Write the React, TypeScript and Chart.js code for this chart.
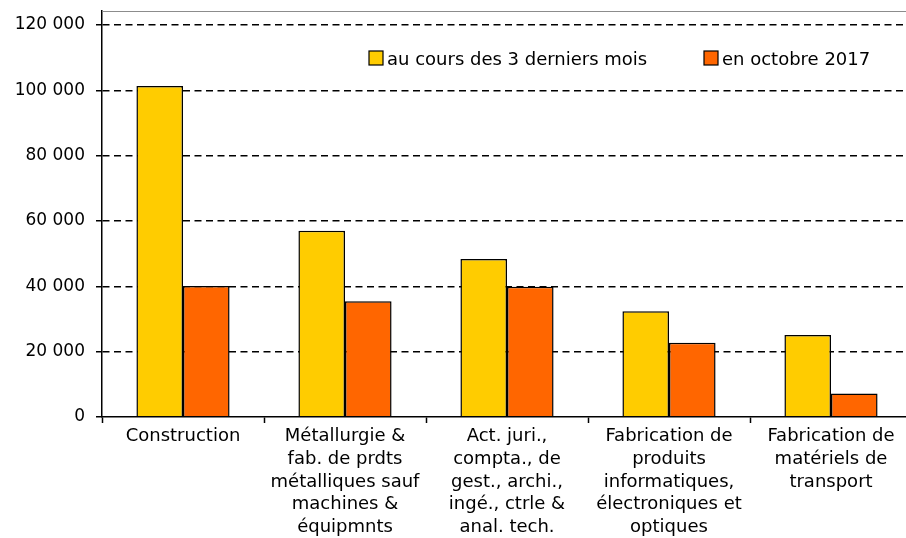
import React, { useEffect, useRef } from "react";
import { Chart, registerables } from "chart.js";

Chart.register(...registerables);

const categories: string[][] = [
  ["Construction"],
  ["Métallurgie &", "fab. de prdts", "métalliques sauf", "machines &", "équipmnts"],
  ["Act. juri.,", "compta., de", "gest., archi.,", "ingé., ctrle &", "anal. tech."],
  ["Fabrication de", "produits", "informatiques,", "électroniques et", "optiques"],
  ["Fabrication de", "matériels de", "transport"],
];
const seriesLabels = ["au cours des 3 derniers mois", "en octobre 2017"];
const last3Months = [101300, 57000, 48400, 32400, 25100];
const october2017 = [40100, 35400, 39900, 22700, 7200];
const yTickValues = [0, 20000, 40000, 60000, 80000, 100000, 120000];
const yMax = 124300;

const FONT = "'DejaVu Sans', Verdana, sans-serif";
const W = 920;
const H = 560;

const fmt = (v: number) => String(v).replace(/\B(?=(\d{3})+(?!\d))/g, " ");

const framePlugin = {
  id: "frameTop",
  beforeDatasetsDraw(chart: any) {
    const { ctx, chartArea } = chart;
    ctx.save();
    ctx.strokeStyle = "#8c8c8c";
    ctx.lineWidth = 1;
    ctx.beginPath();
    ctx.moveTo(chartArea.left, chartArea.top + 0.5);
    ctx.lineTo(chartArea.right, chartArea.top + 0.5);
    ctx.stroke();
    ctx.restore();
  },
};

const legendPlugin = {
  id: "customLegend",
  afterDraw(chart: any) {
    const { ctx, chartArea } = chart;
    const ds = chart.data.datasets;
    ctx.save();
    ctx.font = `18px ${FONT}`;
    ctx.textBaseline = "alphabetic";
    ctx.textAlign = "left";
    const base = chartArea.top + 54;
    const boxes = [chartArea.left + 267, chartArea.left + 602];
    boxes.forEach((bx, i) => {
      const d = ds[i];
      ctx.fillStyle = d.backgroundColor;
      ctx.fillRect(bx, base - 14, 14, 14);
      ctx.strokeStyle = "#000";
      ctx.lineWidth = 1.2;
      ctx.strokeRect(bx, base - 14, 14, 14);
      ctx.fillStyle = "#000";
      ctx.fillText(d.label, bx + 18, base);
    });
    ctx.restore();
  },
};

export default function App() {
  const ref = useRef<HTMLCanvasElement | null>(null);

  useEffect(() => {
    if (!ref.current) return;
    const chart = new Chart(ref.current, {
      type: "bar",
      data: {
        labels: categories,
        datasets: [
          {
            label: seriesLabels[0],
            data: last3Months,
            backgroundColor: "#FFCC00",
            borderColor: "#000000",
            borderWidth: 1.5,
            categoryPercentage: 0.575,
            barPercentage: 1,
          },
          {
            label: seriesLabels[1],
            data: october2017,
            backgroundColor: "#FF6600",
            borderColor: "#000000",
            borderWidth: 1.5,
            categoryPercentage: 0.575,
            barPercentage: 1,
          },
        ],
      },
      options: {
        responsive: false,
        animation: false,
        devicePixelRatio: 1,
        layout: { padding: { top: 11, right: W - 912, left: 0, bottom: 0 } },
        plugins: {
          legend: { display: false },
          tooltip: { enabled: false },
        },
        scales: {
          x: {
            offset: true,
            grid: {
              offset: true,
              drawOnChartArea: false,
              drawTicks: true,
              tickLength: 6,
              tickColor: "#000",
              tickWidth: 1.5,
            },
            border: { display: true, color: "#000", width: 1.5, z: 1 },
            ticks: {
              color: "#000",
              font: { family: FONT, size: 18, lineHeight: 1.264 },
              padding: 2,
              maxRotation: 0,
              autoSkip: false,
            },
            afterFit(scale: any) {
              scale.height = H - 417;
              scale.paddingLeft = 0;
              scale.paddingRight = 0;
            },
          },
          y: {
            min: 0,
            max: yMax,
            afterBuildTicks(scale: any) {
              scale.ticks = yTickValues.map((v) => ({ value: v }));
            },
            grid: {
              color: (c: any) => (c.tick && c.tick.value === 0 ? "rgba(0,0,0,0)" : "#000"),
              lineWidth: 1.5,
              tickBorderDash: [],
              tickLength: 6,
              tickColor: "#000",
              tickWidth: 1.5,
            },
            border: { display: true, color: "#000", width: 1.5, dash: [7, 4.5] },
            ticks: {
              color: "#000",
              font: { family: FONT, size: 17 },
              padding: 11,
              callback: (v: any) => fmt(Number(v)),
            },
            afterFit(scale: any) {
              scale.width = 102;
              scale.paddingTop = 0;
              scale.paddingBottom = 0;
            },
          },
        },
      },
      plugins: [framePlugin, legendPlugin],
    });
    return () => chart.destroy();
  }, []);

  return (
    <div
      style={{
        position: "fixed",
        left: 0,
        top: 0,
        width: 906,
        height: 538,
        overflow: "hidden",
        background: "#fff",
      }}
    >
      <canvas ref={ref} width={W} height={H} style={{ width: W, height: H, display: "block" }} />
    </div>
  );
}
